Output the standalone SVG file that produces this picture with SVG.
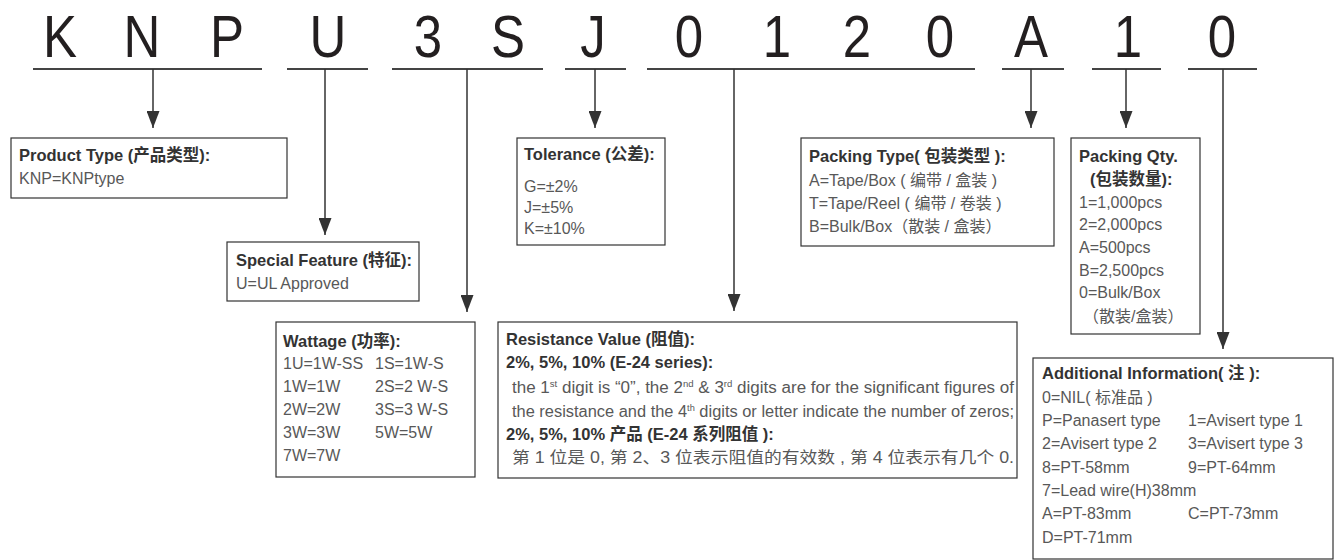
<svg xmlns="http://www.w3.org/2000/svg" width="1334" height="560" viewBox="0 0 1334 560">
<style>
.t{font-family:"Liberation Sans","Noto Sans CJK SC",sans-serif;font-size:16px;fill:#585858}
.h{font-weight:bold;fill:#333;font-size:16.5px}
.box{fill:#fff;stroke:#333;stroke-width:1.2}
.ul{stroke:#444;stroke-width:2}
.ar{stroke:#333;stroke-width:1.5;fill:none;marker-end:url(#ah)}
.big{font-family:"Liberation Sans",sans-serif;font-size:60px;fill:#231f20;text-anchor:middle}
.sup{font-size:9px}
</style>
<defs>
<marker id="ah" markerUnits="userSpaceOnUse" markerWidth="17" markerHeight="13" refX="17" refY="6.5" orient="auto" viewBox="0 0 17 13">
<path d="M0,0 L17,6.5 L0,13 z" fill="#333"/>
</marker>
</defs>
<rect width="1334" height="560" fill="#fff"/>
<g id="code" transform="scale(0.85,1)">
<text class="big" x="70.6" y="57">K</text>
<text class="big" x="167.1" y="57">N</text>
<text class="big" x="267.1" y="57">P</text>
<text class="big" x="385.9" y="57">U</text>
<text class="big" x="503.5" y="57">3</text>
<text class="big" x="597.6" y="57">S</text>
<text class="big" x="697.6" y="57">J</text>
<text class="big" x="810.6" y="57">0</text>
<text class="big" x="914.1" y="57">1</text>
<text class="big" x="1008.2" y="57">2</text>
<text class="big" x="1105.9" y="57">0</text>
<text class="big" x="1212.9" y="57">A</text>
<text class="big" x="1327.1" y="57">1</text>
<text class="big" x="1437.6" y="57">0</text>
</g>
<g id="connectors">
<line class="ul" x1="33" y1="69" x2="262" y2="69"/>
<line class="ul" x1="287" y1="69" x2="368" y2="69"/>
<line class="ul" x1="392" y1="69" x2="543" y2="69"/>
<line class="ul" x1="565" y1="69" x2="626" y2="69"/>
<line class="ul" x1="647" y1="69" x2="975" y2="69"/>
<line class="ul" x1="1002" y1="69" x2="1064" y2="69"/>
<line class="ul" x1="1092" y1="69" x2="1161" y2="69"/>
<line class="ul" x1="1188" y1="69" x2="1257" y2="69"/>
<line class="ar" x1="153" y1="69" x2="153" y2="128"/>
<line class="ar" x1="325" y1="69" x2="325" y2="235"/>
<line class="ar" x1="467" y1="69" x2="467" y2="312"/>
<line class="ar" x1="595" y1="69" x2="595" y2="128"/>
<line class="ar" x1="734" y1="69" x2="734" y2="311"/>
<line class="ar" x1="1031" y1="69" x2="1031" y2="128"/>
<line class="ar" x1="1126" y1="69" x2="1126" y2="128"/>
<line class="ar" x1="1223" y1="69" x2="1223" y2="349"/>
</g>
<g id="product-type">
<rect class="box" x="11" y="138" width="276" height="60"/>
<text class="t h" x="19" y="161">Product Type  (产品类型):</text>
<text class="t" x="19" y="184">KNP=KNPtype</text>
</g>
<g id="special-feature">
<rect class="box" x="227" y="242" width="192" height="59"/>
<text class="t h" x="236" y="266">Special Feature (特征):</text>
<text class="t" x="236" y="289">U=UL Approved</text>
</g>
<g id="wattage">
<rect class="box" x="276" y="322" width="199" height="155"/>
<text class="t h" x="283" y="347">Wattage (功率):</text>
<text class="t" x="283" y="369">1U=1W-SS</text>
<text class="t" x="375" y="369">1S=1W-S</text>
<text class="t" x="283" y="392">1W=1W</text>
<text class="t" x="375" y="392">2S=2 W-S</text>
<text class="t" x="283" y="415">2W=2W</text>
<text class="t" x="375" y="415">3S=3 W-S</text>
<text class="t" x="283" y="438">3W=3W</text>
<text class="t" x="375" y="438">5W=5W</text>
<text class="t" x="283" y="461">7W=7W</text>
</g>
<g id="tolerance">
<rect class="box" x="517" y="138" width="148" height="107"/>
<text class="t h" x="524" y="160">Tolerance (公差):</text>
<text class="t" x="524" y="192">G=±2%</text>
<text class="t" x="524" y="213">J=±5%</text>
<text class="t" x="524" y="234">K=±10%</text>
</g>
<g id="resistance">
<rect class="box" x="498" y="322" width="519" height="156"/>
<text class="t h" x="506" y="345">Resistance Value (阻值):</text>
<text class="t h" x="506" y="368">2%, 5%, 10% (E-24 series):</text>
<text class="t" x="512" y="393" textLength="502" lengthAdjust="spacingAndGlyphs">the 1<tspan class="sup" dy="-6">st</tspan><tspan dy="6"> digit is “0”, the 2</tspan><tspan class="sup" dy="-6">nd</tspan><tspan dy="6"> &amp; 3</tspan><tspan class="sup" dy="-6">rd</tspan><tspan dy="6"> digits are for the significant figures of</tspan></text>
<text class="t" x="512" y="417" textLength="502" lengthAdjust="spacingAndGlyphs">the resistance and the 4<tspan class="sup" dy="-6">th</tspan><tspan dy="6"> digits or letter indicate the number of zeros;</tspan></text>
<text class="t h" x="506" y="440">2%, 5%, 10% 产品 (E-24 系列阻值 ):</text>
<text class="t" x="512" y="463" textLength="502" lengthAdjust="spacingAndGlyphs">第 1 位是 0, 第 2、3 位表示阻值的有效数 , 第 4 位表示有几个 0.</text>
</g>
<g id="packing-type">
<rect class="box" x="801" y="138" width="253" height="108"/>
<text class="t h" x="809" y="162">Packing Type( 包装类型 ):</text>
<text class="t" x="809" y="186">A=Tape/Box ( 编带 / 盒装 )</text>
<text class="t" x="809" y="209">T=Tape/Reel ( 编带 / 卷装 )</text>
<text class="t" x="809" y="232">B=Bulk/Box（散装 / 盒装）</text>
</g>
<g id="packing-qty">
<rect class="box" x="1071" y="138" width="129" height="196"/>
<text class="t h" x="1079" y="162">Packing Qty.</text>
<text class="t h" x="1090" y="185">(包装数量):</text>
<text class="t" x="1079" y="208">1=1,000pcs</text>
<text class="t" x="1079" y="230">2=2,000pcs</text>
<text class="t" x="1079" y="253">A=500pcs</text>
<text class="t" x="1079" y="276">B=2,500pcs</text>
<text class="t" x="1079" y="298">0=Bulk/Box</text>
<text class="t" x="1083" y="322">（散装/盒装）</text>
</g>
<g id="additional-info">
<rect class="box" x="1033" y="358" width="300" height="201"/>
<text class="t h" x="1042" y="379">Additional Information( 注 ):</text>
<text class="t" x="1042" y="403">0=NIL( 标准品 )</text>
<text class="t" x="1042" y="426">P=Panasert type</text>
<text class="t" x="1188" y="426">1=Avisert type 1</text>
<text class="t" x="1042" y="449">2=Avisert type 2</text>
<text class="t" x="1188" y="449">3=Avisert type 3</text>
<text class="t" x="1042" y="473">8=PT-58mm</text>
<text class="t" x="1188" y="473">9=PT-64mm</text>
<text class="t" x="1042" y="496">7=Lead wire(H)38mm</text>
<text class="t" x="1042" y="519">A=PT-83mm</text>
<text class="t" x="1188" y="519">C=PT-73mm</text>
<text class="t" x="1042" y="543">D=PT-71mm</text>
</g>
</svg>
